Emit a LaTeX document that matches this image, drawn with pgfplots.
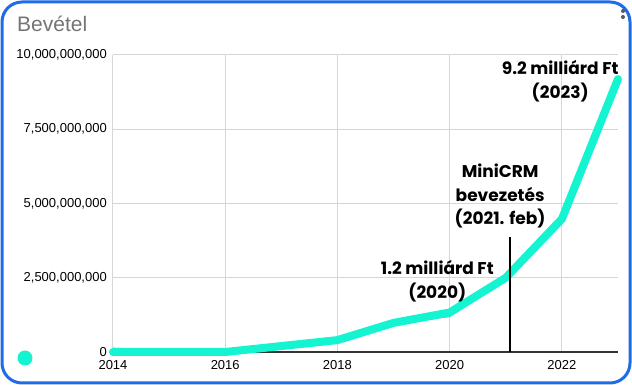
\documentclass[border=0pt]{standalone}
\usepackage{pgfplots}
\pgfplotsset{compat=1.18}
\usepackage{fontspec}
\setmainfont{Liberation Sans}
\newfontfamily\ann{Poppins}
\definecolor{teal1}{RGB}{20,244,208}
\definecolor{lav}{RGB}{160,160,245}
\definecolor{frameblue}{RGB}{30,108,232}
\definecolor{gridc}{RGB}{214,214,214}
\definecolor{titleg}{RGB}{117,117,117}
\begin{document}
\begin{tikzpicture}[x=1pt,y=1pt]
\path[fill=white] (0,0) rectangle (632,385);
\draw[frameblue, line width=3pt, rounded corners=20pt] (2,2) rectangle (630,383);
\node[anchor=base west, inner sep=0, text=titleg, font=\fontsize{21}{24}\selectfont] at (17,353) {Bevétel};
\fill[gray!70!black] (623,374) circle (2);
\fill[gray!70!black] (623,368) circle (2);
\fill[teal1] (25,27) circle (7.5);
\begin{axis}[
  at={(113pt,33pt)}, anchor=south west,
  scale only axis, width=505pt, height=297pt,
  xmin=2014, xmax=2023, ymin=0, ymax=1e10,
  clip=false,
  axis line style={draw=none},
  tick style={draw=none},
  grid=major,
  major grid style={gridc, line width=1pt},
  xtick={2014,2016,2018,2020,2022},
  xticklabels={2014,2016,2018,2020,2022},
  ytick={0,2.5e9,5e9,7.5e9,1e10},
  yticklabels={0,{2,500,000,000},{5,000,000,000},{7,500,000,000},{10,000,000,000}},
  /pgf/number format/assume math mode=true,
  scaled y ticks=false,
  ticklabel style={font=\fontsize{13}{15}\selectfont, inner sep=0pt},
  yticklabel style={xshift=-6pt},
  xticklabel style={anchor=north, yshift=-8pt},
]
\draw[gray!40!black, line width=1.2pt] (rel axis cs:0,0) -- (rel axis cs:1,0);
\addplot[lav, line width=1.5pt, line join=round] coordinates {
(2014,0.12e9) (2015,0.05e9) (2016,0) (2017,0.18e9) (2018,0.37e9) (2019,0.95e9) (2020,1.2e9) (2021,2.45e9) (2022,4.45e9) (2023,9.15e9)};
\addplot[teal1, line width=8pt, line cap=round, line join=round] coordinates {
(2014,0) (2015,0) (2016,0) (2017,0.2e9) (2018,0.4e9) (2019,0.98e9) (2020,1.33e9) (2021,2.5e9) (2022,4.48e9) (2023,9.19e9)};
\addplot[black, line width=1.8pt] coordinates {(2021.08,0) (2021.08,3.87e9)};
\node[align=center, font=\ann\bfseries\fontsize{17}{23.5}\selectfont] at (axis cs:2021.97,9.12e9) {9.2 milliárd Ft\\(2023)};
\node[align=center, font=\ann\bfseries\fontsize{17}{23.5}\selectfont] at (axis cs:2020.9,5.24e9) {MiniCRM\\bevezetés\\(2021. feb)};
\node[align=center, font=\ann\bfseries\fontsize{17}{23.5}\selectfont] at (axis cs:2019.78,2.39e9) {1.2 milliárd Ft\\(2020)};
\end{axis}
\end{tikzpicture}
\end{document}
